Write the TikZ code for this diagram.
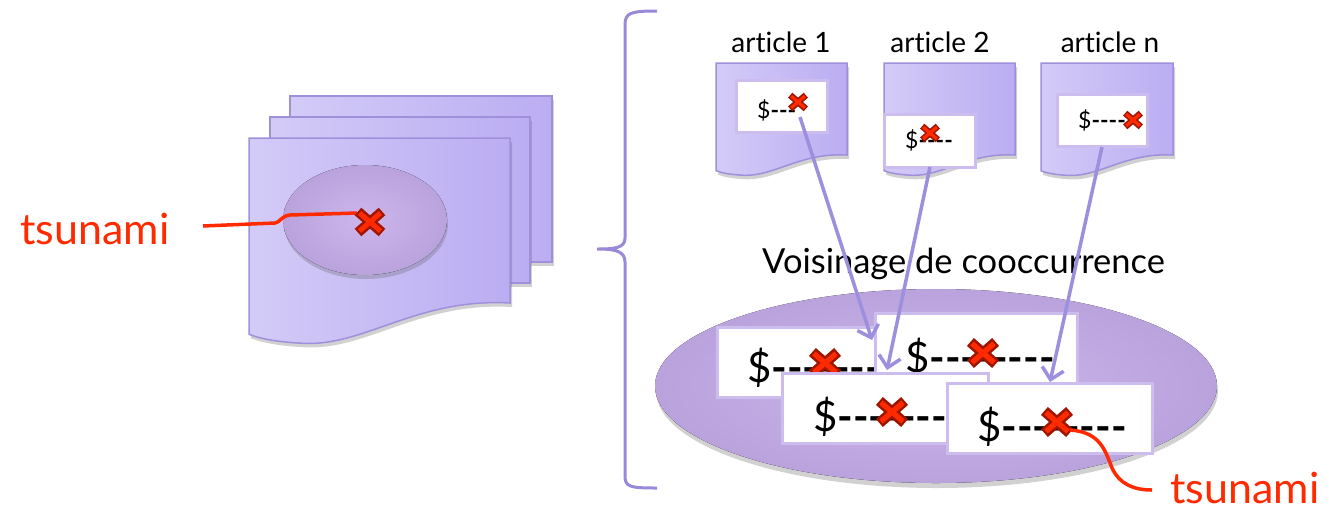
\documentclass[tikz,border=0pt]{standalone}
\usepackage{fontspec}
\setmainfont{Lato}[Ligatures=NoCommon]
\usetikzlibrary{shadows,arrows.meta}
\definecolor{pagefillA}{HTML}{D3CBF7}
\definecolor{pagefillB}{HTML}{BBADF2}
\definecolor{pageborder}{HTML}{A090DC}
\definecolor{ellA}{HTML}{CDB5EC}
\definecolor{ellB}{HTML}{BAA2DC}
\definecolor{boxborder}{HTML}{CDBDEE}
\definecolor{arrowc}{HTML}{9D8FDE}
\definecolor{redline}{HTML}{FF2A00}
\definecolor{darkred}{HTML}{A01500}
\definecolor{bracec}{HTML}{9A88D8}
\newcommand{\dsh}{\mbox{\bfseries -}}
\newcommand{\docpath}[4]{(#1,#2) -- (#3,#2) -- (#3,#4) .. controls ({#3-0.35*(#3-#1)},{#4-0.02*(#3-#1)}) and ({#1+0.45*(#3-#1)},{#4+0.16*(#3-#1)}) .. ({#1+0.22*(#3-#1)},{#4+0.155*(#3-#1)}) .. controls ({#1+0.1*(#3-#1)},{#4+0.15*(#3-#1)}) and ({#1+0.04*(#3-#1)},{#4+0.135*(#3-#1)}) .. (#1,{#4+0.12*(#3-#1)}) -- cycle}
\newcommand{\redx}[2]{%
  \begin{scope}[shift={#1}]
    \draw[darkred, line width=#2*10pt] (-#2*12,-#2*10.5) -- (#2*12,#2*10.5) (-#2*12,#2*10.5) -- (#2*12,-#2*10.5);
    \draw[redline, line width=#2*5pt] (-#2*10.5,-#2*9) -- (#2*10.5,#2*9) (-#2*10.5,#2*9) -- (#2*10.5,-#2*9);
  \end{scope}}
\tikzset{
  page/.style={draw=pageborder, line width=1.5pt, left color=pagefillA, right color=pagefillB,
    drop shadow={shadow xshift=2pt, shadow yshift=-4pt, opacity=0.3, fill=black!60}},
  wbox/.style={draw=boxborder, line width=3pt, fill=white, inner sep=0pt},
  arr/.style={draw=arrowc, line width=3.5pt, -{Straight Barb[length=11pt,width=22pt]}},
  redc/.style={draw=redline, line width=3.5pt},
  lbl/.style={inner sep=0pt, anchor=base west},
  clbl/.style={inner sep=0pt, anchor=base},
  bigtxt/.style={font=\fontsize{42}{48}\selectfont},
  smalltxt/.style={font=\fontsize{23}{26}\selectfont},
}
\begin{document}
\begin{tikzpicture}[x=1pt,y=-1pt]
\useasboundingbox (0,0) rectangle (1329,512);
% left stack of pages
\path[page] (290,96) rectangle (552,262);
\path[page] (270,117) rectangle (530,283);
\path[page] \docpath{249}{138}{510}{303};
\fill[inner color=ellA, outer color=ellB, drop shadow={shadow xshift=1pt, shadow yshift=-4pt, opacity=0.3, fill=black!60}] (365,220) ellipse [x radius=82, y radius=55];
\draw[redc] (203,226) -- (275,223) .. controls (280,222.5) and (281,216) .. (290,215) -- (357,213);
\redx{(370,222)}{1}
\node[lbl, text=redline, font=\fontsize{43}{50}\selectfont] (tsuL) at (20,244) {tsunami};
% brace
\draw[bracec, line width=3pt] (657,11) .. controls (630,11) and (625,13) .. (625,25) -- (625,238)
  .. controls (625,248) and (615,249) .. (597,249) .. controls (615,249) and (625,251) .. (625,262)
  -- (625,476) .. controls (625,487) and (630,488) .. (657,488);
% articles
\node[clbl, font=\fontsize{28}{32}\selectfont] (art1) at (781,52) {article 1};
\node[clbl, font=\fontsize{28}{32}\selectfont] (art2) at (940,52) {article 2};
\node[clbl, font=\fontsize{28}{32}\selectfont] (artn) at (1110,52) {article n};
\path[page] \docpath{716}{63}{847}{155};
\path[page] \docpath{884}{63}{1015}{155};
\path[page] \docpath{1041}{63}{1173}{155};
\node[wbox, minimum width=91pt, minimum height=52pt] (b1) at (781.5,106) {};
\node[wbox, minimum width=91pt, minimum height=53pt] (b2) at (929.5,140.5) {};
\node[wbox, minimum width=90pt, minimum height=52pt] (b3) at (1102,120) {};
\node[lbl, smalltxt] (t1) at (757,118) {\$\dsh\dsh\dsh};
\redx{(798,102)}{0.65}
\node[lbl, smalltxt] (t2) at (905,148) {\$\dsh\dsh\dsh\dsh};
\redx{(930,133)}{0.65}
\node[lbl, smalltxt] (t3) at (1078,128) {\$\dsh\dsh\dsh\dsh};
\redx{(1133,120)}{0.65}
% neighbourhood
\node[lbl, font=\fontsize{34.5}{40}\selectfont] (vois) at (762,273) {Voisinage de cooccurrence};
\fill[inner color=ellA, outer color=ellB, drop shadow={shadow xshift=1pt, shadow yshift=-5pt, opacity=0.3, fill=black!60}] (936,386) ellipse [x radius=281, y radius=97];
\node[wbox, minimum width=163pt, minimum height=70pt] (bA) at (798.5,362) {};
\node[lbl, bigtxt] (tA) at (747,382) {\$\dsh\dsh\dsh\dsh\dsh\dsh\dsh};
\redx{(825,363)}{1.05}
\node[wbox, minimum width=202pt, minimum height=77pt] (bB) at (976,351.5) {};
\node[lbl, bigtxt] (tB) at (905,372) {\$\dsh\dsh\dsh\dsh\dsh\dsh\dsh\dsh};
\redx{(983,353)}{1.05}
\node[wbox, minimum width=206pt, minimum height=70pt] (bC) at (885,408) {};
\node[lbl, bigtxt] (tC) at (813,431) {\$\dsh\dsh\dsh\dsh\dsh\dsh\dsh};
\redx{(892,412)}{1.05}
\node[wbox, minimum width=205pt, minimum height=70pt] (bD) at (1049.5,418) {};
\node[lbl, bigtxt] (tD) at (977,441) {\$\dsh\dsh\dsh\dsh\dsh\dsh\dsh\dsh};
\redx{(1057,422)}{1.05}
% arrows
\coordinate (s1) at (800,117); \coordinate (e1) at (872,340);
\coordinate (s2) at (930,167); \coordinate (e2) at (887,370);
\coordinate (s3) at (1102,147); \coordinate (e3) at (1050,382);
\draw[arr] (s1) -- (e1);
\draw[arr] (s2) -- (e2);
\draw[arr] (s3) -- (e3);
% right tsunami
\draw[redc] (1070,430) .. controls (1100,432) and (1105,450) .. (1112,468) .. controls (1120,485) and (1135,490) .. (1152,490);
\node[lbl, text=redline, font=\fontsize{43}{50}\selectfont] (tsuR) at (1170,503) {tsunami};
\end{tikzpicture}
\end{document}
